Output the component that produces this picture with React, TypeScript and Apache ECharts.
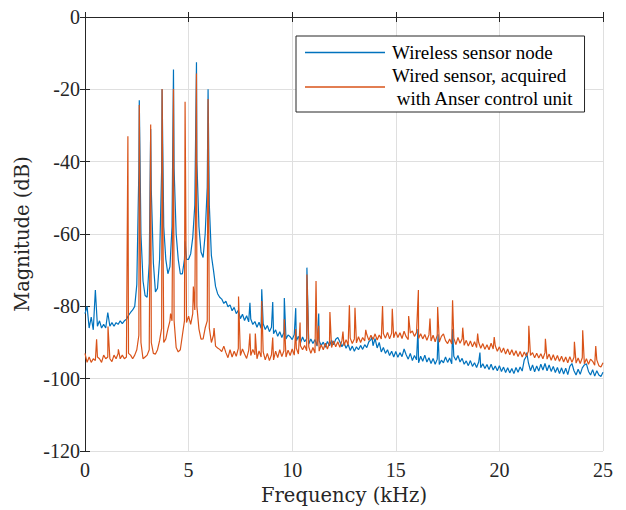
import React, { useEffect, useRef } from "react";
import * as echarts from "echarts";

// Frequency grid step of the sampled noise floors (kHz)
const freqStep = 0.1;

// Wireless sensor node: noise floor sampled every 0.1 kHz, 0 .. 25 kHz (dB)
const wirelessFloor = [
  -82.0, -80.0, -86.0, -83.0, -86.5, -75.5, -85.5, -84.0, -86.0, -85.0,
  -86.0, -81.7, -85.5, -84.5, -85.5, -84.5, -85.0, -84.0, -84.8, -84.0,
  -83.6, -82.5, -81.7, -81.0, -80.0, -74.0, -42.0, -60.0, -73.0, -77.0,
  -77.5, -68.0, -48.0, -68.0, -76.0, -75.0, -67.0, -42.0, -58.0, -67.0,
  -71.0, -69.0, -58.0, -42.0, -60.0, -67.0, -71.0, -71.0, -67.0, -67.0,
  -67.0, -65.5, -61.0, -52.0, -40.0, -58.0, -65.0, -66.5, -60.0, -47.0,
  -52.0, -66.0, -70.0, -74.5, -76.5, -77.5,
  -78.0, -79.2, -78.6, -80.1,
  -79.6, -81.2, -80.3, -82.0, -81.1, -83.4, -82.2, -83.9, -82.6, -84.3,
  -83.5, -85.0, -84.2, -85.8, -84.4, -86.1, -84.8, -86.4, -85.3, -87.0,
  -85.8, -87.6, -86.5, -88.3, -87.0, -88.6, -87.2, -89.0, -87.9, -88.4,
  -89.2, -87.8, -89.6, -88.3, -90.1, -88.5, -89.8, -88.9, -90.4, -89.0,
  -90.3, -89.2, -91.0, -89.5, -90.8, -89.9, -91.3, -89.7, -90.9, -89.4,
  -90.6, -89.1, -88.6, -89.8, -91.2, -90.0, -91.6, -90.5, -92.2, -91.0,
  -92.4, -91.2, -92.0, -90.8, -91.9, -90.6, -91.4, -89.8, -89.2, -90.9,
  -88.9, -91.5, -90.0, -92.6, -91.4, -93.0, -92.0, -93.6, -92.4, -94.0,
  -92.5, -94.1, -92.8, -93.9, -91.8, -93.4, -94.6, -93.0, -95.0, -93.6,
  -94.8, -95.6, -93.8, -95.2, -93.5, -95.4, -94.2, -95.8, -94.4, -96.0,
  -94.6, -96.1, -94.9, -95.6, -94.0, -95.5, -94.3, -95.9, -93.8, -94.9,
  -93.6, -95.4, -94.4, -96.0, -95.1, -96.4, -95.0, -96.6, -95.6, -96.9,
  -95.4, -97.0, -95.9, -97.2, -96.1, -97.5, -96.0, -97.6, -96.5, -97.8,
  -96.4, -98.0, -96.8, -98.3, -97.0, -98.4, -97.2, -98.6, -96.9, -98.2,
  -96.8, -97.9, -94.8, -93.8, -95.6, -97.8, -96.2, -98.1, -96.5, -97.9,
  -96.0, -97.6, -95.8, -97.8, -96.2, -98.0, -96.6, -98.3, -96.9, -98.6,
  -97.0, -98.7, -97.1, -98.9, -96.6, -95.8, -97.8, -99.0, -97.4, -98.8,
  -97.0, -96.2, -95.9, -98.0, -99.0, -97.5, -99.3, -97.8, -99.0, -99.4,
  -98.2,
];

// Wireless sensor node: peaks and spikes [kHz, dB]
const wirelessPeaks = [
  [2.62, -23.0], [3.17, -31.0], [3.72, -20.0], [4.27, -14.5], [4.83, -62.0],
  [5.38, -12.5], [5.94, -20.0], [7.96, -79.0], [8.53, -75.3], [9.06, -78.8],
  [9.62, -77.7], [10.17, -80.5], [10.71, -69.3], [11.28, -82.0], [13.85, -88.5],
  [16.07, -86.3], [17.04, -87.7], [17.74, -86.3], [19.06, -92.8], [21.32, -92.8],
];

// Wired sensor (Anser control unit): noise floor every 0.1 kHz, 0 .. 25 kHz (dB)
const wiredFloor = [
  -93.0, -95.5, -94.0, -95.5, -94.5, -95.0, -94.0, -94.5, -95.5, -93.5,
  -94.5, -94.0, -94.5, -95.3, -93.5, -94.5, -93.0, -94.5, -93.5, -94.5,
  -94.0, -93.0, -93.5, -94.5, -93.5, -92.0, -88.0, -90.0, -94.5, -94.0,
  -93.5, -92.0, -90.0, -93.0, -93.2, -92.0, -89.5, -86.0, -90.0, -89.0,
  -86.3, -84.0, -84.0, -84.0, -91.4, -92.6, -92.0, -88.0, -84.0, -84.5,
  -82.7, -85.0, -82.0, -81.0, -80.0, -86.3, -89.1, -89.0, -86.0, -84.0,
  -86.0, -90.0, -88.0, -91.0, -91.5, -91.9,
  -92.5, -91.0, -92.8, -94.2,
  -92.0, -94.0, -92.4, -93.8, -91.6, -93.6, -91.8, -93.2, -94.4, -92.2,
  -93.6, -91.9, -93.4, -94.5, -92.3, -94.0, -92.6, -94.8, -93.0, -95.0,
  -93.4, -94.8, -92.4, -94.2, -92.0, -93.9, -92.3, -94.0, -92.1, -93.6,
  -91.8, -93.5, -91.6, -93.2, -90.9, -92.0, -90.8, -92.3, -91.2, -93.0,
  -91.4, -92.9, -90.8, -92.4, -90.6, -92.0, -90.2, -91.8, -90.0, -91.4,
  -89.6, -91.2, -89.8, -91.3, -89.5, -90.9, -89.2, -90.7, -88.8, -90.3,
  -89.0, -90.1, -88.4, -90.0, -88.6, -89.6, -87.8, -89.4, -88.0, -89.2,
  -87.6, -89.3, -87.9, -89.0, -87.5, -88.8, -87.2, -89.0, -87.4, -88.7,
  -87.0, -88.6, -87.3, -88.9, -86.9, -88.4, -89.2, -87.4, -86.8, -88.3,
  -87.2, -88.9, -87.6, -89.0, -87.8, -89.4, -87.9, -89.6, -88.0, -89.8,
  -88.0, -89.9, -88.3, -87.6, -89.5, -90.3, -89.0, -90.4, -88.8, -90.6,
  -88.6, -90.2, -89.0, -90.8, -89.4, -91.0, -89.6, -91.2, -89.8, -91.4,
  -90.0, -91.6, -90.3, -91.9, -90.6, -92.0, -90.2, -91.8, -90.9, -92.4,
  -91.2, -92.8, -91.5, -93.2, -91.8, -93.4, -92.0, -93.6, -92.3, -93.9,
  -92.5, -94.0, -92.6, -93.8, -92.4, -93.6, -92.8, -94.2, -93.0, -94.3,
  -93.1, -94.5, -92.8, -94.6, -93.2, -94.9, -93.4, -95.0, -93.6, -95.2,
  -93.8, -95.4, -94.0, -95.6, -93.9, -95.5, -94.1, -95.7, -94.3, -95.8,
  -94.2, -95.9, -94.5, -96.0, -94.6, -95.2, -96.3, -94.8, -96.4, -96.8,
  -95.6,
];

// Wired sensor: peaks and spikes [kHz, dB]
const wiredPeaks = [
  [0.56, -89.1], [1.11, -85.6], [1.61, -91.9], [2.07, -33.0], [2.62, -24.3],
  [3.17, -29.7], [3.72, -19.9], [4.13, -82.0], [4.27, -19.9], [4.83, -23.4],
  [5.23, -74.5], [5.38, -15.6], [5.94, -22.7], [6.23, -86.0], [7.41, -77.3],
  [7.96, -87.5], [8.22, -87.5], [8.53, -78.5], [9.06, -88.6], [9.62, -83.6],
  [10.17, -86.3], [10.38, -84.5], [10.71, -71.2], [11.15, -73.0], [11.28, -85.4],
  [11.82, -81.6], [12.45, -87.0], [12.76, -79.7], [13.03, -80.4], [13.55, -86.5],
  [14.36, -79.9], [14.83, -80.7], [15.62, -82.7], [16.09, -75.5], [16.65, -83.4],
  [17.02, -80.2], [17.74, -78.3], [18.23, -85.9], [18.95, -87.5], [19.75, -88.5],
  [21.42, -85.4], [22.22, -89.0], [23.62, -89.8], [24.02, -86.6], [24.65, -91.0],
];

const seriesNames = [
  "Wireless sensor node",
  "Wired sensor, acquired\n with Anser control unit",
];
const xTicks = { min: 0, max: 25, interval: 5 };
const yTicks = { min: -120, max: 0, interval: 20 };

function buildSeries(floor: number[], peaks: number[][]): number[][] {
  const pts: number[][] = floor.map((v, i) => [Number((i * freqStep).toFixed(2)), v]);
  peaks.forEach((p) => pts.push([p[0], p[1]]));
  pts.sort((a, b) => a[0] - b[0]);
  return pts;
}

const FONT = "Liberation Serif";
const NAME_FONT = "DejaVu Serif";
const AX = "#262626";

export default function App() {
  const ref = useRef<HTMLDivElement>(null);
  useEffect(() => {
    if (!ref.current) return;
    const chart = echarts.init(ref.current, null, { renderer: "svg" });
    const lineCommon = {
      axisLine: { show: true, lineStyle: { color: AX, width: 1 } },
      axisTick: { show: true, inside: true, length: 5, lineStyle: { color: AX, width: 1 } },
    };
    chart.setOption({
      animation: false,
      backgroundColor: "#ffffff",
      textStyle: { fontFamily: FONT },
      grid: { left: 85, right: 23, top: 17, bottom: 59, containLabel: false, outerBoundsMode: "none" },
      legend: {
        orient: "vertical",
        left: 296,
        top: 36,
        padding: [5, 11, 2, 9],
        itemGap: 0,
        itemWidth: 80,
        itemHeight: 1.5,
        icon: "rect",
        borderColor: AX,
        borderWidth: 1,
        borderRadius: 0,
        backgroundColor: "#ffffff",
        textStyle: { fontFamily: FONT, fontSize: 19, lineHeight: 23, color: "#000000", padding: [0, 0, 0, 2] },
        data: seriesNames,
      },
      xAxis: [
        {
          type: "value",
          ...xTicks,
          name: "Frequency (kHz)",
          nameLocation: "middle",
          nameGap: 34,
          nameTextStyle: { color: AX, fontFamily: NAME_FONT, fontSize: 19.5 },
          ...lineCommon,
          axisLabel: { color: AX, fontFamily: FONT, fontSize: 20, margin: 9 },
          splitLine: { show: true, lineStyle: { color: "#dfdfdf", width: 1 } },
        },
        {
          type: "value",
          position: "top",
          ...xTicks,
          ...lineCommon,
          axisLabel: { show: false },
          splitLine: { show: false },
        },
      ],
      yAxis: [
        {
          type: "value",
          ...yTicks,
          name: "Magnitude (dB)",
          nameLocation: "middle",
          nameGap: 46,
          nameTextStyle: { color: AX, fontFamily: NAME_FONT, fontSize: 19.5 },
          ...lineCommon,
          axisLabel: { color: AX, fontFamily: FONT, fontSize: 20, margin: 5 },
          splitLine: { show: true, lineStyle: { color: "#dfdfdf", width: 1 } },
        },
        {
          type: "value",
          position: "right",
          ...yTicks,
          ...lineCommon,
          axisLabel: { show: false },
          splitLine: { show: false },
        },
      ],
      series: [
        {
          name: seriesNames[0],
          type: "line",
          data: buildSeries(wirelessFloor, wirelessPeaks),
          showSymbol: false,
          symbol: "none",
          lineStyle: { color: "#0072BD", width: 1.2 },
          itemStyle: { color: "#0072BD" },
          z: 2,
        },
        {
          name: seriesNames[1],
          type: "line",
          data: buildSeries(wiredFloor, wiredPeaks),
          showSymbol: false,
          symbol: "none",
          lineStyle: { color: "#D95319", width: 1.2 },
          itemStyle: { color: "#D95319" },
          z: 3,
        },
      ],
    });
    return () => chart.dispose();
  }, []);
  return (
    <div
      ref={ref}
      style={{ position: "absolute", left: 0, top: 0, width: 626, height: 510, background: "#fff" }}
    />
  );
}
